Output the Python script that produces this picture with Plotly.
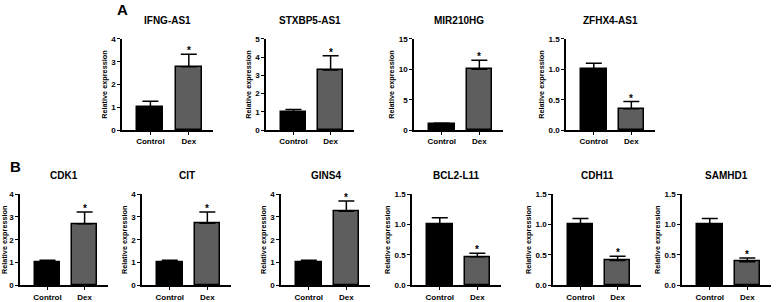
import plotly.graph_objects as go

# ---------------- data ----------------
genes = ["IFNG-AS1", "STXBP5-AS1", "MIR210HG", "ZFHX4-AS1",
         "CDK1", "CIT", "GINS4", "BCL2-L11", "CDH11", "SAMHD1"]
groups = ["Control", "Dex"]
control_mean = [1.0, 1.0, 1.0, 1.0, 1.0, 1.0, 1.0, 1.0, 1.0, 1.0]
control_err = [0.27, 0.13, 0.12, 0.10, 0.10, 0.10, 0.10, 0.11, 0.10, 0.10]
dex_mean = [2.78, 3.3, 10.0, 0.35, 2.7, 2.72, 3.25, 0.47, 0.41, 0.39]
dex_err = [0.55, 0.78, 1.5, 0.12, 0.52, 0.5, 0.45, 0.06, 0.07, 0.06]
y_max = [4, 5, 15, 1.5, 4, 4, 4, 1.5, 1.5, 1.5]
y_step = [1, 1, 5, 0.5, 1, 1, 1, 0.5, 0.5, 0.5]
panel_letters = ["A", "B"]

# ---------------- layout geometry (pixels) ----------------
W, H = 778, 302
# (x_left, x_right, y_top, y_bottom) of each plot area
boxes = [
    (122, 213, 36, 130), (266, 354, 36, 130), (414, 503, 36, 130), (566, 655, 36, 130),
    (20, 108, 196, 290), (142, 231, 196, 290), (281, 370, 196, 290),
    (412, 501, 196, 290), (553, 641, 196, 290), (682, 771, 196, 290),
]

FONT = "Liberation Sans, Arial, sans-serif"
fig = go.Figure()
annotations = []
layout = {}

for i, g in enumerate(genes):
    k = i + 1
    xa = "x" if k == 1 else f"x{k}"
    ya = "y" if k == 1 else f"y{k}"
    x0, x1, yt, yb = boxes[i]
    fig.add_trace(go.Bar(
        x=groups, y=[control_mean[i], dex_mean[i]],
        marker=dict(color=["#000000", "#5e5e5e"], line=dict(color="#000000", width=1.5)),
        width=0.68,
        error_y=dict(type="data", symmetric=False,
                     array=[control_err[i], dex_err[i]], arrayminus=[0, 0],
                     color="#000000", thickness=1.5, width=8),
        xaxis=xa, yaxis=ya, showlegend=False, hoverinfo="skip",
    ))
    annotations.append(dict(
        x=groups[1], y=dex_mean[i] + dex_err[i], xref=xa, yref=ya,
        text="*", showarrow=False, yanchor="bottom", yshift=-4,
        font=dict(family=FONT, size=10, color="#000", weight="bold"),
    ))
    annotations.append(dict(
        x=(x0 + x1) / 2 / W, y=1 - (yt - 11) / H, xref="paper", yref="paper",
        text=g, showarrow=False, yanchor="bottom", xanchor="center",
        font=dict(family=FONT, size=10, color="#000", weight="bold"),
    ))
    dec = y_step[i] < 1
    layout["xaxis" if k == 1 else f"xaxis{k}"] = dict(
        domain=[x0 / W, x1 / W], anchor=ya, range=[-0.74, 1.63],
        showline=True, linecolor="#000", linewidth=1.5,
        ticks="outside", ticklen=3, tickwidth=1.2, tickcolor="#000",
        tickfont=dict(family=FONT, size=8, color="#000", weight="bold"),
        showgrid=False, zeroline=False, fixedrange=True,
    )
    layout["yaxis" if k == 1 else f"yaxis{k}"] = dict(
        domain=[1 - yb / H, 1 - yt / H], anchor=xa, range=[0, y_max[i]],
        dtick=y_step[i], tick0=0, tickformat=".1f" if dec else "d",
        showline=True, linecolor="#000", linewidth=1.5,
        ticks="outside", ticklen=3, tickwidth=1.2, tickcolor="#000",
        tickfont=dict(family=FONT, size=8, color="#000", weight="bold"),
        title=dict(text="Relative expression", standoff=3,
                   font=dict(family=FONT, size=7.3, color="#000", weight="bold")),
        showgrid=False, zeroline=False, fixedrange=True,
    )

annotations.append(dict(x=122 / W, y=1 - 6 / H, xref="paper", yref="paper", text=panel_letters[0],
                        showarrow=False, xanchor="center", yanchor="middle",
                        font=dict(family=FONT, size=15, color="#000", weight="bold")))
annotations.append(dict(x=16 / W, y=1 - 168 / H, xref="paper", yref="paper", text=panel_letters[1],
                        showarrow=False, xanchor="center", yanchor="middle",
                        font=dict(family=FONT, size=15, color="#000", weight="bold")))

fig.update_layout(
    width=W, height=H, margin=dict(l=0, r=0, t=0, b=0),
    paper_bgcolor="white", plot_bgcolor="white",
    annotations=annotations, bargap=0, **layout,
)
fig.write_html("out.html", config={"displayModeBar": False},
               post_script="document.body.style.margin='0';")
